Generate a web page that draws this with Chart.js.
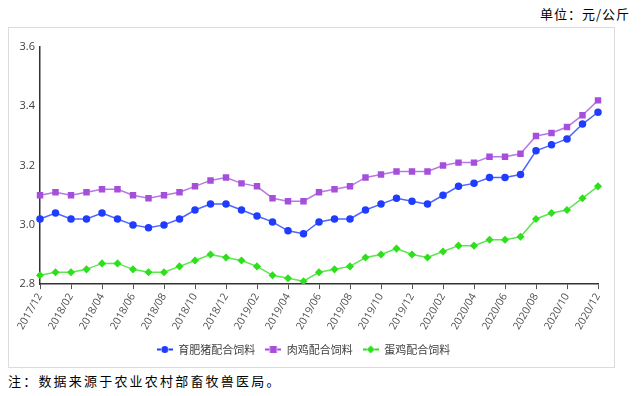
<!DOCTYPE html>
<html>
<head>
<meta charset="utf-8">
<script src="https://cdn.jsdelivr.net/npm/chart.js@4/dist/chart.umd.min.js"></script>
<style>
  html, body { margin: 0; padding: 0; background: #fff; }
  body { width: 642px; height: 396px; position: relative; overflow: hidden;
         font-family: "Noto Sans CJK SC", "Noto Sans", sans-serif; }
  #unit { position: absolute; right: 12px; top: 4px; font-size: 13px; color: #000; letter-spacing: 1px; }
  #box { position: absolute; left: 8px; top: 27px; width: 605px; height: 339px; border: 1px solid #dcdcdc; }
  #note { position: absolute; left: 8px; top: 371px; font-size: 13px; color: #000; letter-spacing: 2.2px; }
</style>
</head>
<body>
<div id="unit">单位：元/公斤</div>
<div id="box"><canvas id="feed" width="605" height="339"></canvas></div>
<div id="note">注：数据来源于农业农村部畜牧兽医局。</div>
<script>
document.addEventListener("DOMContentLoaded", function() {
    // 月份
    var months = ["2017/12",
        "2018/01", "2018/02", "2018/03", "2018/04", "2018/05", "2018/06",
        "2018/07", "2018/08", "2018/09", "2018/10", "2018/11", "2018/12",
        "2019/01", "2019/02", "2019/03", "2019/04", "2019/05", "2019/06",
        "2019/07", "2019/08", "2019/09", "2019/10", "2019/11", "2019/12",
        "2020/01", "2020/02", "2020/03", "2020/04", "2020/05", "2020/06",
        "2020/07", "2020/08", "2020/09", "2020/10", "2020/11", "2020/12"];
    var yTicks = [2.8, 3.0, 3.2, 3.4, 3.6];

    // 饲料价格 (元/公斤)
    var dataPig = [3.02, 3.04, 3.02, 3.02, 3.04, 3.02, 3.00, 2.99, 3.00, 3.02, 3.05, 3.07, 3.07,
        3.05, 3.03, 3.01, 2.98, 2.97, 3.01, 3.02, 3.02, 3.05, 3.07, 3.09, 3.08,
        3.07, 3.10, 3.13, 3.14, 3.16, 3.16, 3.17, 3.25, 3.27, 3.29, 3.34, 3.38];
    var dataBroiler = [3.10, 3.11, 3.10, 3.11, 3.12, 3.12, 3.10, 3.09, 3.10, 3.11, 3.13, 3.15, 3.16,
        3.14, 3.13, 3.09, 3.08, 3.08, 3.11, 3.12, 3.13, 3.16, 3.17, 3.18, 3.18,
        3.18, 3.20, 3.21, 3.21, 3.23, 3.23, 3.24, 3.30, 3.31, 3.33, 3.37, 3.42];
    var dataLayer = [2.83, 2.84, 2.84, 2.85, 2.87, 2.87, 2.85, 2.84, 2.84, 2.86, 2.88, 2.90, 2.89,
        2.88, 2.86, 2.83, 2.82, 2.81, 2.84, 2.85, 2.86, 2.89, 2.90, 2.92, 2.90,
        2.89, 2.91, 2.93, 2.93, 2.95, 2.95, 2.96, 3.02, 3.04, 3.05, 3.09, 3.13];

    // 图例小图标: 虚线 + 标记
    function legendIcon(color, shape) {
        var c = document.createElement("canvas");
        c.width = 16; c.height = 9;
        var g = c.getContext("2d");
        g.strokeStyle = color; g.fillStyle = color; g.lineWidth = 2;
        g.beginPath(); g.moveTo(0, 4.5); g.lineTo(4, 4.5); g.moveTo(12, 4.5); g.lineTo(16, 4.5); g.stroke();
        g.beginPath();
        if (shape === "circle") { g.arc(8, 4.5, 3.5, 0, Math.PI * 2); }
        else if (shape === "rect") { g.rect(4.5, 1, 7, 7); }
        else { g.moveTo(8, 0.5); g.lineTo(12, 4.5); g.lineTo(8, 8.5); g.lineTo(4, 4.5); g.closePath(); }
        g.fill();
        return c;
    }

    var blue = "#1f3cff", purple = "#a64fdc", green = "#2ee01c";

    new Chart("feed", {
        type: "line",
        data: {
            labels: months,
            datasets: [{
                label: "育肥猪配合饲料",
                data: dataPig,
                borderColor: "#4d66ff",
                backgroundColor: blue,
                pointBackgroundColor: blue,
                pointBorderColor: blue,
                pointStyle: "circle",
                pointRadius: 3,
                borderWidth: 1.5,
                legendIcon: legendIcon(blue, "circle")
            }, {
                label: "肉鸡配合饲料",
                data: dataBroiler,
                borderColor: "#b878e4",
                backgroundColor: purple,
                pointBackgroundColor: purple,
                pointBorderColor: purple,
                pointStyle: "rect",
                pointRadius: 3.5,
                borderWidth: 1.5,
                legendIcon: legendIcon(purple, "rect")
            }, {
                label: "蛋鸡配合饲料",
                data: dataLayer,
                borderColor: "#5ee650",
                backgroundColor: green,
                pointBackgroundColor: green,
                pointBorderColor: green,
                pointStyle: "rectRot",
                pointRadius: 3,
                borderWidth: 1.5,
                legendIcon: legendIcon(green, "diamond")
            }]
        },
        options: {
            responsive: false,
            animation: false,
            layout: { padding: { top: 19, right: 16, left: 0, bottom: 2 } },
            plugins: {
                tooltip: { enabled: false },
                legend: {
                    position: "bottom",
                    labels: {
                        usePointStyle: true,
                        pointStyleWidth: 16,
                        color: "#404040",
                        font: { size: 11, family: "'Noto Sans CJK SC', sans-serif" },
                        padding: 10,
                        boxWidth: 16,
                        boxHeight: 9,
                        generateLabels: function(chart) {
                            return chart.data.datasets.map(function(ds, i) {
                                return {
                                    text: ds.label,
                                    pointStyle: ds.legendIcon,
                                    fillStyle: ds.backgroundColor,
                                    strokeStyle: ds.backgroundColor,
                                    lineWidth: 0,
                                    fontColor: "#404040",
                                    datasetIndex: i
                                };
                            });
                        }
                    }
                }
            },
            scales: {
                x: {
                    offset: false,
                    grid: { display: true, drawOnChartArea: false, drawTicks: true, tickLength: 5, color: "#555" },
                    border: { display: true, color: "#333", width: 1.5 },
                    ticks: {
                        autoSkip: false,
                        minRotation: 60,
                        maxRotation: 60,
                        color: "#505050",
                        font: { size: 10.5, family: "'Open Sans', sans-serif" },
                        padding: 2,
                        callback: function(v, i) { return i % 2 === 0 ? months[i] : null; }
                    }
                },
                y: {
                    min: yTicks[0],
                    max: yTicks[yTicks.length - 1],
                    afterFit: function(s) { s.width = 31; },
                    afterBuildTicks: function(s) { s.ticks = yTicks.map(function(v) { return { value: v }; }); },
                    grid: { display: false, drawTicks: false },
                    border: { display: true, color: "#333", width: 1.5 },
                    ticks: {
                        color: "#404040",
                        font: { size: 11, family: "'Open Sans', sans-serif" },
                        padding: 5,
                        callback: function(v) { return v.toFixed(1); }
                    }
                }
            }
        }
    });
});
</script>
</body>
</html>
